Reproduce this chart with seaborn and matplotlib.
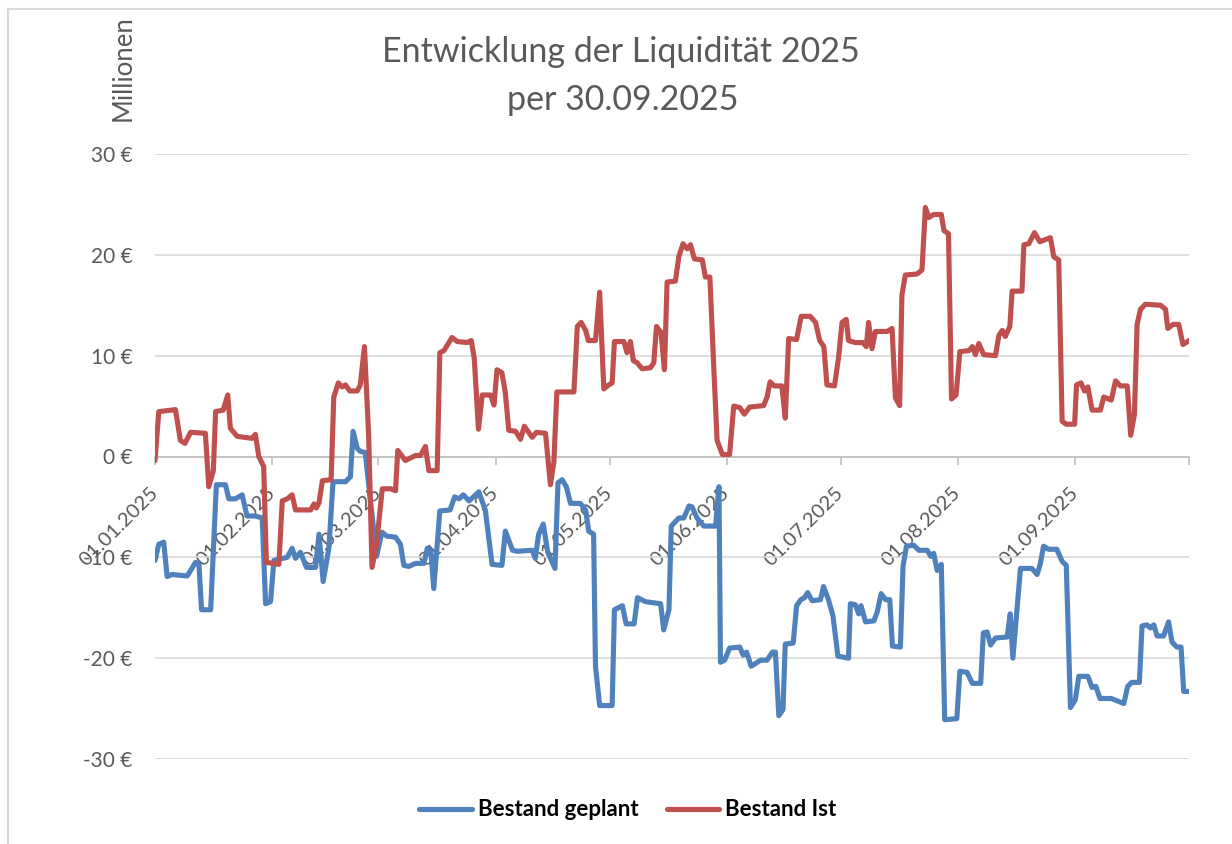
import pandas as pd
import seaborn as sns
import matplotlib.pyplot as plt
from matplotlib.ticker import FuncFormatter
from matplotlib.patches import Rectangle

start = pd.Timestamp('2025-01-01')

# Tage ab 01.01.2025, Bestand in Mio. EUR
geplant_tage = [0, 1.0, 2.3, 3.2, 4.5, 8.5, 10.7, 11.6, 12.3, 14.7, 16.2, 18.6, 19.5, 21.2, 23.0, 24.3, 26.5, 28.3,
                29.2, 30.5, 31.4, 34.9, 36.2, 37.1, 38.4, 40.0, 42.4, 43.3, 44.4, 45.9, 47.0, 50.3, 51.6, 52.3, 53.4,
                54.2, 55.5, 58.5, 59.9, 61.2, 63.5, 64.8, 65.7, 67.0, 68.8, 71.0, 71.9, 72.8, 73.6, 75.2, 77.9, 79.1,
                80.3, 81.4, 82.9, 84.1, 85.5, 87.2, 89.0, 91.6, 92.5, 94.4, 95.6, 99.6, 100.4, 101.3, 102.5, 103.7,
                105.6, 106.4, 107.5, 108.6, 109.7, 112.3, 113.7, 114.5, 115.8, 116.3, 117.4, 120.7, 121.3, 123.4,
                124.4, 126.5, 127.4, 129.5, 133.5, 134.3, 135.7, 136.3, 138.3, 139.6, 141.0, 141.8, 143.1, 144.9,
                148.0, 148.9, 149.3, 150.4, 151.7, 154.4, 155.3, 156.2, 157.4, 159.9, 161.6, 163.0, 163.8, 164.7,
                165.8, 166.4, 168.5, 169.4, 170.5, 171.5, 172.3, 173.5, 175.7, 176.5, 177.8, 179.0, 180.3, 183.1,
                183.6, 184.9, 185.8, 186.4, 187.6, 189.8, 190.7, 191.7, 192.9, 194.0, 194.7, 196.8, 197.5, 198.4,
                200.3, 201.7, 203.9, 204.8, 205.6, 206.5, 207.6, 208.5, 211.7, 212.5, 214.4, 215.8, 218.0, 218.7,
                219.7, 220.6, 221.9, 225.0, 225.8, 226.5, 228.5, 231.5, 232.9, 233.7, 234.6, 235.9, 238.1, 239.5,
                240.6, 241.7, 243.0, 243.9, 246.3, 247.4, 248.4, 249.5, 252.5, 255.8, 256.8, 257.9, 259.9, 260.6,
                261.9, 262.8, 263.7, 264.6, 266.3, 267.6, 268.5, 269.8, 270.9, 271.6, 273.0]
geplant_werte = [-10.3, -8.7, -8.5, -11.9, -11.7, -11.85, -10.5, -10.7, -15.2, -15.2, -2.8, -2.8, -4.2, -4.2, -3.8,
                 -5.9, -5.9, -6.1, -14.6, -14.4, -10.3, -10.0, -9.1, -10.1, -9.5, -11.0, -11.0, -7.7, -12.4, -9.1,
                 -2.5, -2.5, -2.0, 2.5, 0.8, 0.5, 0.4, -9.9, -7.5, -7.9, -8.0, -8.7, -10.8, -10.9, -10.6, -10.6,
                 -9.1, -9.3, -13.1, -5.4, -5.3, -4.0, -4.2, -3.8, -4.4, -4.0, -3.5, -5.3, -10.7, -10.8, -7.4, -9.3,
                 -9.4, -9.3, -10.1, -7.7, -6.7, -9.5, -11.1, -2.6, -2.3, -3.0, -4.65, -4.65, -5.3, -7.4, -7.7, -20.8,
                 -24.7, -24.7, -15.2, -14.8, -16.6, -16.6, -14.0, -14.4, -14.6, -17.2, -15.2, -6.9, -6.1, -6.1, -4.9,
                 -5.0, -6.1, -6.9, -6.9, -3.0, -20.4, -20.2, -19.0, -18.9, -19.7, -19.4, -20.8, -20.2, -20.2, -19.4,
                 -19.4, -25.7, -25.1, -18.6, -18.5, -14.8, -14.2, -14.0, -13.5, -14.3, -14.2, -12.9, -14.2, -15.8,
                 -19.8, -20.0, -14.6, -14.7, -15.6, -14.8, -16.4, -16.3, -15.4, -13.6, -14.2, -14.2, -18.8, -18.9,
                 -10.9, -8.9, -8.8, -9.3, -9.3, -9.9, -9.6, -11.3, -10.7, -26.1, -26.0, -21.3, -21.4, -22.5, -22.5,
                 -17.5, -17.4, -18.7, -18.0, -17.9, -15.6, -20.0, -11.1, -11.1, -11.7, -10.7, -8.9, -9.2, -9.2,
                 -10.4, -10.8, -24.9, -24.1, -21.8, -21.8, -22.9, -22.8, -24.0, -24.0, -24.5, -22.8, -22.4, -22.4,
                 -16.8, -16.7, -17.0, -16.7, -17.8, -17.8, -16.4, -18.4, -18.9, -18.9, -23.3, -23.3]

ist_tage = [0, 1.0, 5.4, 6.7, 7.9, 9.4, 13.3, 14.2, 15.4, 16.0, 18.0, 19.2, 19.9, 21.7, 25.6, 26.5, 27.4, 28.7, 29.4,
            32.7, 33.6, 34.9, 36.2, 37.1, 41.1, 42.0, 42.6, 43.3, 44.2, 46.5, 47.2, 48.4, 49.4, 50.3, 51.4, 53.4,
            54.2, 55.3, 56.4, 57.3, 58.5, 60.0, 62.2, 63.5, 64.1, 66.1, 68.8, 70.1, 71.4, 72.3, 74.5, 75.2, 76.3,
            78.4, 79.8, 82.4, 83.5, 84.3, 85.4, 86.4, 88.6, 89.5, 90.3, 91.6, 92.5, 93.4, 95.2, 96.5, 97.5, 99.6,
            100.7, 103.1, 104.4, 105.3, 106.1, 110.6, 111.5, 112.5, 113.7, 114.4, 116.3, 117.4, 118.5, 119.8,
            120.7, 121.3, 123.8, 124.6, 125.5, 126.3, 127.3, 128.6, 130.8, 131.7, 132.4, 133.6, 134.5, 135.2,
            137.4, 138.3, 139.4, 140.5, 141.4, 142.4, 144.5, 145.3, 146.5, 147.5, 148.4, 149.8, 151.7, 152.8,
            154.4, 155.6, 157.0, 160.7, 161.6, 162.4, 163.5, 165.5, 166.4, 167.3, 169.4, 170.6, 173.0, 174.4,
            175.5, 176.6, 177.4, 179.4, 180.5, 181.4, 182.5, 183.1, 184.9, 186.9, 187.8, 188.4, 189.3, 190.2,
            193.3, 194.6, 195.5, 196.6, 197.2, 198.1, 201.2, 202.5, 203.4, 204.3, 205.6, 207.6, 208.3, 209.5,
            210.3, 211.5, 212.5, 214.9, 215.8, 216.6, 217.5, 218.8, 221.9, 222.8, 223.7, 224.5, 225.7, 226.3,
            228.9, 229.4, 230.7, 232.2, 233.6, 236.4, 237.3, 238.6, 239.5, 240.6, 242.8, 243.3, 244.5, 245.4,
            246.3, 247.4, 249.6, 250.5, 252.5, 253.6, 254.9, 256.7, 257.6, 258.6, 259.3, 260.2, 261.5, 265.5,
            266.8, 267.4, 268.8, 270.3, 271.4, 273.0]
ist_werte = [-0.4, 4.45, 4.65, 1.6, 1.3, 2.4, 2.3, -3.0, -1.4, 4.45, 4.6, 6.1, 2.8, 2.0, 1.8, 2.2, 0.0, -1.0, -10.5,
             -10.7, -4.4, -4.2, -3.8, -5.3, -5.3, -4.7, -5.1, -4.6, -2.4, -2.3, 5.9, 7.3, 6.9, 7.1, 6.5, 6.5, 7.1,
             10.9, 2.2, -11.0, -8.7, -3.2, -3.2, -3.4, 0.6, -0.4, 0.1, 0.1, 1.0, -1.4, -1.4, 10.3, 10.5, 11.8, 11.4,
             11.3, 11.5, 9.7, 2.7, 6.1, 6.1, 5.1, 8.6, 8.3, 6.3, 2.6, 2.5, 1.7, 3.0, 1.9, 2.4, 2.3, -2.8, -0.6, 6.4,
             6.4, 12.9, 13.3, 12.5, 11.5, 11.5, 16.3, 6.7, 7.1, 7.3, 11.4, 11.4, 10.3, 11.4, 9.5, 9.3, 8.7, 8.8,
             9.3, 12.9, 12.3, 8.6, 17.3, 17.4, 19.8, 21.1, 20.6, 21.0, 19.6, 19.5, 17.8, 17.8, 9.1, 1.6, 0.2, 0.2,
             5.0, 4.85, 4.2, 4.9, 5.05, 5.9, 7.4, 7.0, 7.0, 3.8, 11.7, 11.6, 13.9, 13.9, 13.3, 11.5, 10.9, 7.1, 7.0,
             9.9, 13.3, 13.6, 11.5, 11.3, 11.3, 10.9, 13.3, 10.7, 12.4, 12.4, 12.7, 5.8, 5.05, 16.0, 18.0, 18.1,
             18.5, 24.7, 23.7, 24.0, 24.0, 22.4, 22.1, 5.7, 6.1, 10.4, 10.5, 10.9, 10.1, 11.2, 10.1, 10.0, 12.0,
             12.5, 11.9, 12.9, 16.4, 16.4, 21.0, 21.1, 22.2, 21.3, 21.7, 19.8, 19.5, 3.5, 3.2, 3.2, 7.1, 7.3, 6.5,
             6.9, 4.6, 4.6, 5.9, 5.6, 7.5, 7.0, 7.0, 2.1, 4.2, 13.1, 14.6, 15.1, 15.0, 14.6, 12.7, 13.1, 13.1, 11.1,
             11.5]

monate = pd.date_range('2025-01-01', '2025-09-01', freq='MS')
y_ticks = [-30, -20, -10, 0, 10, 20, 30]

df = pd.concat([
    pd.DataFrame({'Datum': start + pd.to_timedelta(geplant_tage, unit='D'),
                  'Wert': geplant_werte, 'Serie': 'Bestand geplant'}),
    pd.DataFrame({'Datum': start + pd.to_timedelta(ist_tage, unit='D'),
                  'Wert': ist_werte, 'Serie': 'Bestand Ist'}),
])

sns.set_theme(style='white')
plt.rcParams['font.family'] = ['Lato', 'DejaVu Sans']
grau = '#595959'

fig = plt.figure(figsize=(12.32, 8.44), dpi=100)
# Rahmen des Diagrammbereichs (rechts/unten abgeschnitten)
fig.patches.append(Rectangle((8 / 1232, -10 / 844), 1240 / 1232, 845 / 844, transform=fig.transFigure,
                             fill=False, edgecolor='#d9d9d9', linewidth=1.5))
ax = fig.add_axes([155 / 1232, 85 / 844, 1034 / 1232, 605 / 844])

sns.lineplot(data=df, x='Datum', y='Wert', hue='Serie', estimator=None, linewidth=3.7, ax=ax,
             palette={'Bestand geplant': '#4F81BD', 'Bestand Ist': '#C0504D'}, legend=False, zorder=3)

ax.set_xlim(start, pd.Timestamp('2025-10-01'))
ax.set_ylim(-30, 30)
ax.set_yticks(y_ticks)
ax.yaxis.set_major_formatter(FuncFormatter(lambda v, p: f'{v:.0f} €'))
ax.grid(axis='y', color='#d9d9d9', linewidth=1.2)
ax.set_axisbelow(True)
for s in ['top', 'right', 'left']:
    ax.spines[s].set_visible(False)
ax.spines['bottom'].set_position(('data', 0))
ax.spines['bottom'].set_color('#bfbfbf')
ax.spines['bottom'].set_linewidth(1.2)

ax.set_xticks(monate)
ax.set_xticklabels([d.strftime('%d.%m.%Y') for d in monate], rotation=45, ha='right', va='center',
                   rotation_mode='anchor')
ax.set_xticks([pd.Timestamp('2025-10-01')], minor=True)
ax.tick_params(axis='x', which='both', direction='out', color='#bfbfbf', labelcolor=grau, length=6, width=1.2,
               labelsize=14.5, pad=18, bottom=True)
ax.tick_params(axis='y', length=0, labelcolor=grau, labelsize=15, pad=16)
ax.set_xlabel('')
ax.set_ylabel('')

fig.text(621 / 1232, 1 - 52 / 844, 'Entwicklung der Liquidität 2025', ha='center', va='center',
         fontsize=24.5, color=grau)
fig.text(623 / 1232, 1 - 100 / 844, 'per 30.09.2025', ha='center', va='center', fontsize=24.5, color=grau)
fig.text(123 / 1232, 1 - 68 / 844, 'Millionen', rotation=90, ha='center', va='center', fontsize=18.5,
         color=grau)

fig.legend(handles=ax.lines[:2], labels=['Bestand geplant', 'Bestand Ist'], loc='center',
           bbox_to_anchor=(628 / 1232, 1 - 810 / 844), ncol=2, frameon=False, labelcolor='black',
           prop={'weight': 'bold', 'size': 16}, handlelength=2.35, handletextpad=0.27, columnspacing=1.3)

fig.savefig('out.png', dpi=100)
